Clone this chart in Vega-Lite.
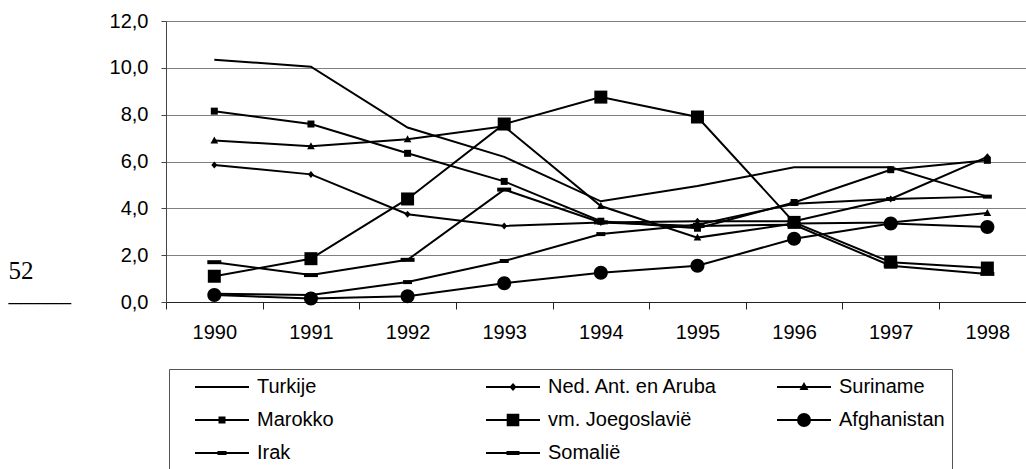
{
  "$schema": "https://vega.github.io/schema/vega-lite/v6.json",
  "autosize": {"type": "none"},
  "width": 860,
  "height": 281,
  "padding": {"left": 166, "top": 21, "right": 0, "bottom": 167},
  "background": "white",
  "config": {"view": {"stroke": null}, "font": "Liberation Sans"},
  "data": {"values": [
    {"s": "Turkije", "year": 1990, "v": 10.35}, {"s": "Turkije", "year": 1991, "v": 10.05}, {"s": "Turkije", "year": 1992, "v": 7.45}, {"s": "Turkije", "year": 1993, "v": 6.2}, {"s": "Turkije", "year": 1994, "v": 4.3}, {"s": "Turkije", "year": 1995, "v": 4.95}, {"s": "Turkije", "year": 1996, "v": 5.75}, {"s": "Turkije", "year": 1997, "v": 5.75}, {"s": "Turkije", "year": 1998, "v": 4.5},
    {"s": "Ned. Ant. en Aruba", "year": 1990, "v": 5.85}, {"s": "Ned. Ant. en Aruba", "year": 1991, "v": 5.45}, {"s": "Ned. Ant. en Aruba", "year": 1992, "v": 3.75}, {"s": "Ned. Ant. en Aruba", "year": 1993, "v": 3.25}, {"s": "Ned. Ant. en Aruba", "year": 1994, "v": 3.4}, {"s": "Ned. Ant. en Aruba", "year": 1995, "v": 3.45}, {"s": "Ned. Ant. en Aruba", "year": 1996, "v": 3.45}, {"s": "Ned. Ant. en Aruba", "year": 1997, "v": 4.4}, {"s": "Ned. Ant. en Aruba", "year": 1998, "v": 6.2},
    {"s": "Suriname", "year": 1990, "v": 6.9}, {"s": "Suriname", "year": 1991, "v": 6.65}, {"s": "Suriname", "year": 1992, "v": 6.95}, {"s": "Suriname", "year": 1993, "v": 7.5}, {"s": "Suriname", "year": 1994, "v": 4.1}, {"s": "Suriname", "year": 1995, "v": 2.75}, {"s": "Suriname", "year": 1996, "v": 3.35}, {"s": "Suriname", "year": 1997, "v": 3.4}, {"s": "Suriname", "year": 1998, "v": 3.8},
    {"s": "Marokko", "year": 1990, "v": 8.15}, {"s": "Marokko", "year": 1991, "v": 7.6}, {"s": "Marokko", "year": 1992, "v": 6.35}, {"s": "Marokko", "year": 1993, "v": 5.15}, {"s": "Marokko", "year": 1994, "v": 3.45}, {"s": "Marokko", "year": 1995, "v": 3.15}, {"s": "Marokko", "year": 1996, "v": 4.25}, {"s": "Marokko", "year": 1997, "v": 5.65}, {"s": "Marokko", "year": 1998, "v": 6.05},
    {"s": "vm. Joegoslavië", "year": 1990, "v": 1.1}, {"s": "vm. Joegoslavië", "year": 1991, "v": 1.85}, {"s": "vm. Joegoslavië", "year": 1992, "v": 4.4}, {"s": "vm. Joegoslavië", "year": 1993, "v": 7.6}, {"s": "vm. Joegoslavië", "year": 1994, "v": 8.75}, {"s": "vm. Joegoslavië", "year": 1995, "v": 7.9}, {"s": "vm. Joegoslavië", "year": 1996, "v": 3.4}, {"s": "vm. Joegoslavië", "year": 1997, "v": 1.7}, {"s": "vm. Joegoslavië", "year": 1998, "v": 1.45},
    {"s": "Afghanistan", "year": 1990, "v": 0.3}, {"s": "Afghanistan", "year": 1991, "v": 0.15}, {"s": "Afghanistan", "year": 1992, "v": 0.25}, {"s": "Afghanistan", "year": 1993, "v": 0.8}, {"s": "Afghanistan", "year": 1994, "v": 1.25}, {"s": "Afghanistan", "year": 1995, "v": 1.55}, {"s": "Afghanistan", "year": 1996, "v": 2.7}, {"s": "Afghanistan", "year": 1997, "v": 3.35}, {"s": "Afghanistan", "year": 1998, "v": 3.2},
    {"s": "Irak", "year": 1990, "v": 0.35}, {"s": "Irak", "year": 1991, "v": 0.3}, {"s": "Irak", "year": 1992, "v": 0.85}, {"s": "Irak", "year": 1993, "v": 1.75}, {"s": "Irak", "year": 1994, "v": 2.9}, {"s": "Irak", "year": 1995, "v": 3.3}, {"s": "Irak", "year": 1996, "v": 4.2}, {"s": "Irak", "year": 1997, "v": 4.4}, {"s": "Irak", "year": 1998, "v": 4.5},
    {"s": "Somalië", "year": 1990, "v": 1.7}, {"s": "Somalië", "year": 1991, "v": 1.15}, {"s": "Somalië", "year": 1992, "v": 1.8}, {"s": "Somalië", "year": 1993, "v": 4.8}, {"s": "Somalië", "year": 1994, "v": 3.4}, {"s": "Somalië", "year": 1995, "v": 3.25}, {"s": "Somalië", "year": 1996, "v": 3.3}, {"s": "Somalië", "year": 1997, "v": 1.55}, {"s": "Somalië", "year": 1998, "v": 1.2}
  ]},
  "layer": [
    {
      "mark": {"type": "line", "color": "black", "strokeWidth": 2},
      "encoding": {
        "x": {
          "field": "year", "type": "quantitative",
          "scale": {"domain": [1989.5, 1998.4], "nice": false, "zero": false},
          "axis": {"orient": "bottom", "values": [1990, 1991, 1992, 1993, 1994, 1995, 1996, 1997, 1998], "format": "d", "ticks": false, "tickSize": 0, "grid": false, "domain": true, "domainColor": "#222", "domainWidth": 1, "labelFontSize": 20, "labelColor": "black", "labelPadding": 20, "labelFlush": false, "labelOverlap": false, "labelBound": false, "title": null}
        },
        "y": {
          "field": "v", "type": "quantitative",
          "scale": {"domain": [0, 12], "nice": false, "zero": true},
          "axis": {
            "values": [0, 2, 4, 6, 8, 10, 12],
            "labelExpr": "replace(format(datum.value, '.1f'), '.', ',')",
            "grid": true, "gridColor": "#808080", "gridWidth": 1,
            "domainColor": "#444", "tickColor": "#444", "tickSize": 5,
            "labelPadding": 13, "labelFontSize": 20, "labelColor": "black",
            "title": ["52", "_____"],
            "titleAngle": 0, "titleAlign": "left", "titleBaseline": "alphabetic",
            "titleX": -158, "titleY": 257, "titleFont": "Liberation Serif", "titleFontSize": 25,
            "titleFontWeight": "normal", "titleLineHeight": 22, "titleColor": "black"
          }
        },
        "detail": {"field": "s"}
      }
    },
    {
      "mark": {"type": "point", "filled": true, "color": "black", "size": 400, "opacity": 1},
      "encoding": {
        "x": {
          "field": "year", "type": "quantitative",
          "axis": {"orient": "bottom", "values": [1989.5, 1990.5, 1991.5, 1992.5, 1993.5, 1994.5, 1995.5, 1996.5, 1997.5], "labels": false, "ticks": true, "tickSize": 7, "tickColor": "#222", "tickWidth": 1, "domain": false, "grid": false, "title": null}
        },
        "y": {"field": "v", "type": "quantitative"},
        "shape": {
          "field": "s", "type": "nominal",
          "scale": {
            "domain": ["Turkije", "Ned. Ant. en Aruba", "Suriname", "Marokko", "vm. Joegoslavië", "Afghanistan", "Irak", "Somalië"],
            "range": [
              "M0,0Z",
              "M0,-0.35L0.3,0L0,0.35L-0.3,0Z",
              "M0,-0.4L0.38,0.3L-0.38,0.3Z",
              "M-0.35,-0.35H0.35V0.35H-0.35Z",
              "M-0.65,-0.65H0.65V0.65H-0.65Z",
              "M0.7,0A0.7,0.7,0,1,1,-0.7,0A0.7,0.7,0,1,1,0.7,0Z",
              "M-0.45,-0.2H0.45V0.2H-0.45Z",
              "M-0.7,-0.2H0.7V0.2H-0.7Z"
            ]
          },
          "legend": null
        }
      }
    },
    {
      "transform": [{"filter": "datum.v < 0"}],
      "mark": {"type": "point", "filled": false, "color": "black", "fill": "black", "stroke": "black", "strokeWidth": 2, "size": 400, "opacity": 1},
      "encoding": {
        "x": {"field": "year", "type": "quantitative", "axis": null},
        "y": {"field": "v", "type": "quantitative"},
        "shape": {
          "field": "s", "type": "nominal",
          "scale": {
            "domain": ["Turkije", "Ned. Ant. en Aruba", "Suriname", "Marokko", "vm. Joegoslavië", "Afghanistan", "Irak", "Somalië"],
            "range": [
              "M-2.7,0L2.7,0",
              "M-2.7,0L2.7,0M0,-0.25L0.22,0L0,0.25L-0.22,0Z",
              "M-2.7,0L2.7,0M0,-0.3L0.28,0.2L-0.28,0.2Z",
              "M-2.7,0L2.7,0M-0.25,-0.25H0.25V0.25H-0.25Z",
              "M-2.7,0L2.7,0M-0.53,-0.53H0.53V0.53H-0.53Z",
              "M-2.7,0L2.7,0M0.6,0A0.6,0.6,0,1,1,-0.6,0A0.6,0.6,0,1,1,0.6,0Z",
              "M-2.7,0L2.7,0M-0.35,-0.1H0.35V0.1H-0.35Z",
              "M-2.7,0L2.7,0M-0.55,-0.1H0.55V0.1H-0.55Z"
            ]
          },
          "legend": {
            "title": null,
            "orient": "none",
            "legendX": 3,
            "legendY": 348,
            "columns": 3,
            "direction": "horizontal",
            "gridAlign": "all",
            "columnPadding": 39,
            "rowPadding": 12,
            "padding": 7,
            "strokeColor": "#555",
            "fillColor": "white",
            "labelFontSize": 20,
            "labelColor": "black",
            "labelFont": "Liberation Sans",
            "labelLimit": 400,
            "symbolSize": 400,
            "symbolOffset": 35,
            "labelOffset": 24,
            "symbolStrokeWidth": 2,
            "symbolOpacity": 1
          }
        }
      }
    }
  ],
  "resolve": {"axis": {"x": "independent"}, "scale": {"shape": "independent"}}
}
